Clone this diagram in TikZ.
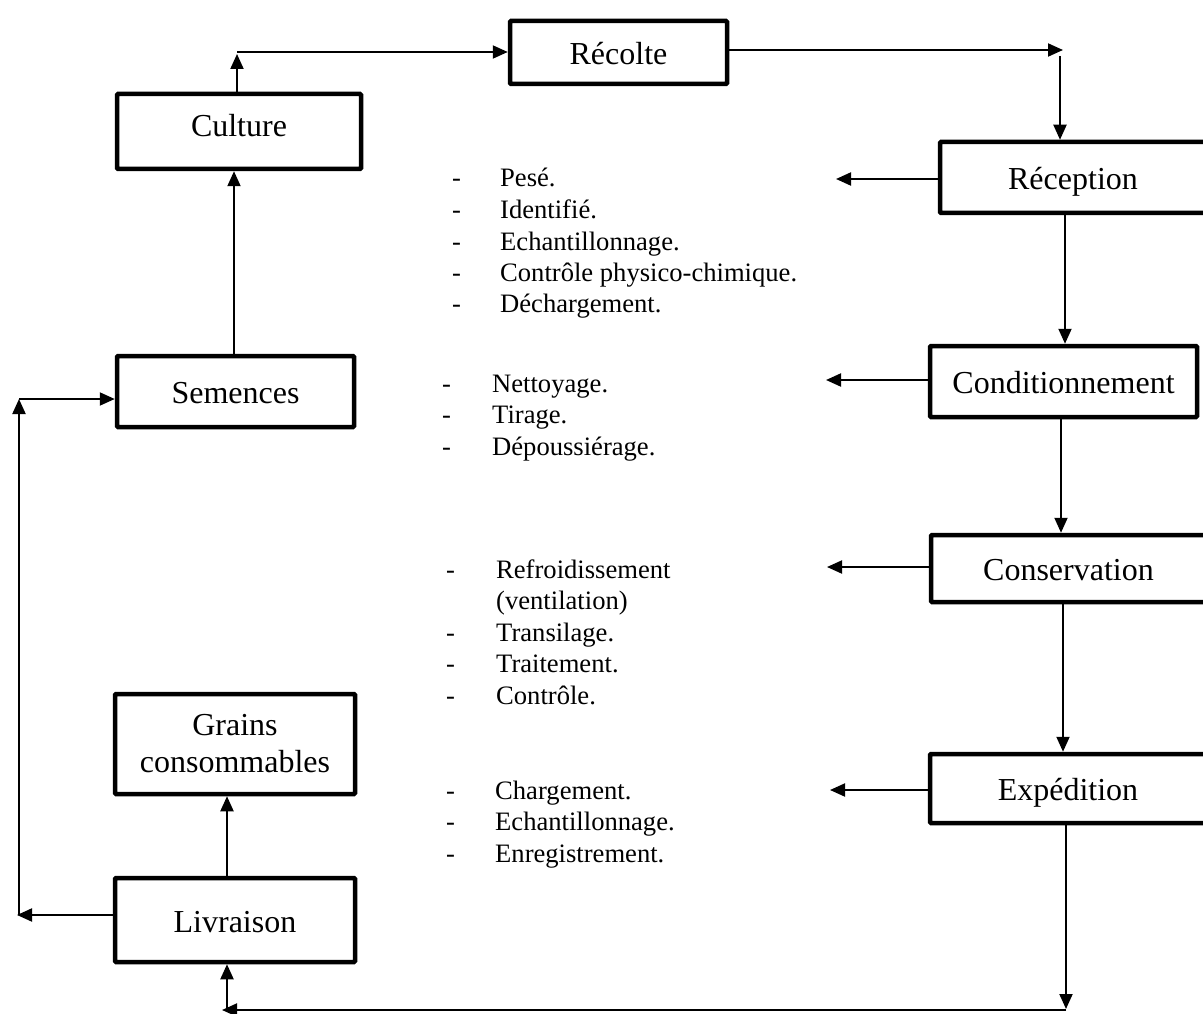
\documentclass[tikz,border=0pt]{standalone}
\usepackage{fontspec}
\setmainfont{Liberation Serif}
\usetikzlibrary{arrows.meta}
\begin{document}
\begin{tikzpicture}[x=1pt,y=-1pt,
  box/.style={draw, line width=4.5pt, inner sep=0pt, rounded corners=1pt,
    font=\fontsize{32}{37}\selectfont, align=center, text height=30pt, text depth=6pt},
  arr/.style={line width=2pt, -{Triangle[length=15pt,width=13pt]}},
  lst/.style={anchor=base west, inner sep=0pt, font=\fontsize{26.6}{31.5}\selectfont}]
\useasboundingbox (0,0) rectangle (1203,1014);
% boxes
\node[box, minimum width=217pt, minimum height=63pt] (recolte) at (618.5,52.5) {Récolte};
\node[box, minimum width=244pt, minimum height=75pt, text height=22pt, text depth=12pt] (culture) at (239,131.5) {Culture};
\node[box, minimum width=266pt, minimum height=71pt] (reception) at (1073,177.5) {Réception};
\node[box, minimum width=267pt, minimum height=71pt] (condit) at (1063.5,381.5) {Conditionnement};
\node[box, minimum width=275pt, minimum height=67pt] (conserv) at (1068.5,568.5) {Conservation};
\node[box, minimum width=276pt, minimum height=69pt] (exped) at (1068,788.5) {Expédition};
\node[box, minimum width=237pt, minimum height=71pt] (semences) at (235.5,391.5) {Semences};
\node[box, minimum width=240pt, minimum height=100pt, text height={}, text depth={}] (grains) at (235,744) {Grains\\consommables};
\node[box, minimum width=240pt, minimum height=84pt] (livraison) at (235,920) {Livraison};
% lists
\node[lst] (l1) at (452,187) {\begin{tabular}[t]{@{}p{48pt}@{}l@{}}
-&Pesé.\\ -&Identifié.\\ -&Echantillonnage.\\ -&Contrôle physico-chimique.\\ -&Déchargement.\end{tabular}};
\node[lst] (l2) at (442,392) {\begin{tabular}[t]{@{}p{50pt}@{}l@{}}
-&Nettoyage.\\ -&Tirage.\\ -&Dépoussiérage.\end{tabular}};
\node[lst] (l3) at (446,578) {\begin{tabular}[t]{@{}p{50pt}@{}l@{}}
-&Refroidissement\\ &(ventilation)\\ -&Transilage.\\ -&Traitement.\\ -&Contrôle.\end{tabular}};
\node[lst] (l4) at (446,799) {\begin{tabular}[t]{@{}p{49pt}@{}l@{}}
-&Chargement.\\ -&Echantillonnage.\\ -&Enregistrement.\end{tabular}};
% coordinates
\coordinate (k1) at (237,52);
\coordinate (k2) at (1063,50);
\coordinate (k3) at (1060,56);
\coordinate (r1) at (836,179);
\coordinate (v1) at (1065,0);
\coordinate (r2) at (826,380);
\coordinate (v2) at (1061,0);
\coordinate (r3) at (827,567);
\coordinate (v3) at (1063,0);
\coordinate (r4) at (830,790);
\coordinate (k4) at (1066,1010);
\coordinate (k5) at (222,1010);
\coordinate (k6) at (227,1010);
\coordinate (k7) at (17,915);
\coordinate (k8) at (19,399);
\coordinate (k9) at (234,0);
% connectors
\draw[arr] (culture.north -| k1) -- ([yshift=-2pt]k1);
\draw[arr] (k1) -- (recolte.west |- k1);
\draw[arr] (recolte.east |- k2) -- (k2);
\draw[arr] (k3) -- (k3 |- reception.north);
\draw[arr] (reception.west |- r1) -- (r1);
\draw[arr] (reception.south -| v1) -- (condit.north -| v1);
\draw[arr] (condit.west |- r2) -- (r2);
\draw[arr] (condit.south -| v2) -- (conserv.north -| v2);
\draw[arr] (conserv.west |- r3) -- (r3);
\draw[arr] (conserv.south -| v3) -- (exped.north -| v3);
\draw[arr] (exped.west |- r4) -- (r4);
\draw[arr] (exped.south -| k4) -- ([yshift=1pt]k4);
\draw[arr] (k4) -- (k5);
\draw[arr] (k6) -- (livraison.south -| k6);
\draw[arr] (livraison.north -| k6) -- (grains.south -| k6);
\draw[arr] (livraison.west |- k7) -- (k7);
\draw[arr] (k8 |- k7) -- (k8);
\draw[arr] (k8) -- (semences.west |- k8);
\draw[arr] (semences.north -| k9) -- (culture.south -| k9);
\end{tikzpicture}
\end{document}
